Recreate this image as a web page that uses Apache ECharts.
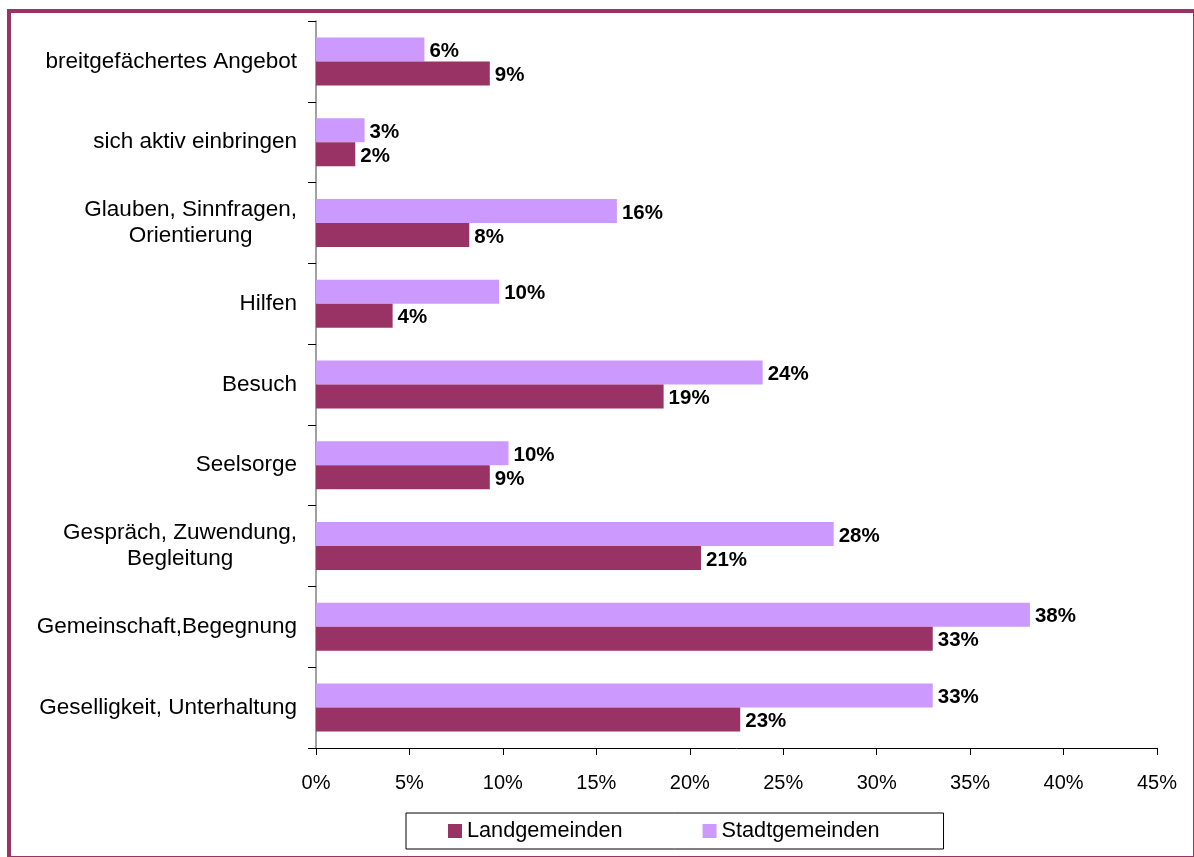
<!DOCTYPE html>
<html lang="de">
<head>
    <meta charset="UTF-8">
    <title>Angebote Land- und Stadtgemeinden</title>
    <style>
        html, body { margin: 0; padding: 0; background: #fff; }
        #chart-container { width: 1194px; height: 857px; }
    </style>
</head>
<body>
    <div id="chart-container"></div>
    <script src="https://cdn.jsdelivr.net/npm/echarts@6/dist/echarts.min.js"></script>
    <script>
        // categories, listed from bottom to top as the y axis draws them
        const categories = [
            'Geselligkeit, Unterhaltung',
            'Gemeinschaft,Begegnung',
            'Gespräch, Zuwendung,\nBegleitung',
            'Seelsorge',
            'Besuch',
            'Hilfen',
            'Glauben, Sinnfragen,\nOrientierung',
            'sich aktiv einbringen',
            'breitgefächertes Angebot'
        ];
        // percent values
        const landValues = [22.7, 33.0, 20.6, 9.3, 18.6, 4.1, 8.2, 2.1, 9.3];
        const stadtValues = [33.0, 38.2, 27.7, 10.3, 23.9, 9.8, 16.1, 2.6, 5.8];
        const seriesNames = ['Landgemeinden', 'Stadtgemeinden'];

        const font = '"Liberation Sans", Arial, sans-serif';

        var dom = document.getElementById('chart-container');
        var myChart = echarts.init(dom, null, { renderer: 'canvas' });

        var barLabel = {
            show: true,
            position: 'right',
            distance: 5,
            offset: [0, 2],
            color: '#000',
            fontWeight: 'bold',
            fontSize: 20.5,
            fontFamily: font,
            formatter: function (p) { return Math.round(p.value) + '%'; }
        };

        var option = {
            backgroundColor: '#fff',
            animation: false,
            grid: { left: 316, right: 37, top: 21, bottom: 109 },
            legend: {
                // legend keeps Land first, while Stadt is drawn as first series (upper bar)
                data: seriesNames,
                left: 406,
                top: 813,
                padding: [7, 64, 7, 42],
                itemGap: 80,
                itemWidth: 14,
                itemHeight: 14,
                icon: 'rect',
                borderColor: '#000',
                borderWidth: 1,
                textStyle: { fontSize: 21.7, color: '#000', fontFamily: font }
            },
            xAxis: {
                type: 'value',
                min: 0,
                max: 45,
                interval: 5,
                splitLine: { show: false },
                axisLine: { show: true, lineStyle: { color: '#000', width: 1 } },
                axisTick: { show: true, length: 7, lineStyle: { color: '#000' } },
                axisLabel: {
                    margin: 25,
                    fontSize: 20,
                    color: '#000',
                    fontFamily: font,
                    formatter: '{value}%'
                }
            },
            yAxis: {
                type: 'category',
                data: categories,
                axisLine: { show: true, lineStyle: { color: '#808080', width: 1.5 } },
                axisTick: { show: true, length: 8, lineStyle: { color: '#000' } },
                axisLabel: {
                    margin: 19,
                    align: 'right',
                    color: '#000',
                    fontSize: 22.5,
                    lineHeight: 26,
                    fontFamily: font,
                    formatter: function (v) {
                        return v.split('\n').map(function (l) { return '{c|' + l + '}'; }).join('\n');
                    },
                    rich: {
                        c: { align: 'center', color: '#000', fontSize: 22.5, lineHeight: 26, fontFamily: font }
                    }
                }
            },
            series: [
                {
                    name: seriesNames[1],
                    type: 'bar',
                    data: stadtValues,
                    barWidth: 24,
                    barGap: '0%',
                    itemStyle: { color: '#CC99FF' },
                    label: barLabel
                },
                {
                    name: seriesNames[0],
                    type: 'bar',
                    data: landValues,
                    barWidth: 24,
                    barGap: '0%',
                    itemStyle: { color: '#993366' },
                    label: barLabel
                }
            ],
            graphic: [
                {
                    type: 'rect',
                    silent: true,
                    shape: { x: 9, y: 11, width: 1186, height: 847 },
                    style: { fill: null, stroke: '#993366', lineWidth: 4 }
                }
            ]
        };

        myChart.setOption(option);
        window.addEventListener('resize', myChart.resize);
    </script>
</body>
</html>
